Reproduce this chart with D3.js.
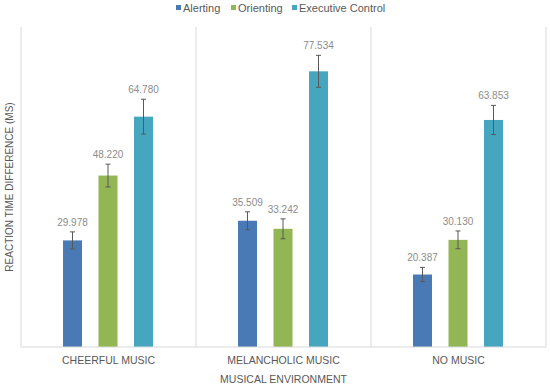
<!DOCTYPE html>
<html>
<head>
<meta charset="utf-8">
<script src="https://cdn.jsdelivr.net/npm/d3@7"></script>
<style>
  body { margin: 0; background: #fff; }
  text { font-family: "Liberation Sans", Arial, sans-serif; }
</style>
</head>
<body>
<svg id="chart" width="550" height="388"></svg>
<script>
// chart values
var categories = ['CHEERFUL MUSIC', 'MELANCHOLIC MUSIC', 'NO MUSIC'];
var seriesNames = ['Alerting', 'Orienting', 'Executive Control'];
var alerting = [29.978, 35.509, 20.387];
var orienting = [48.220, 33.242, 30.130];
var executive = [64.780, 77.534, 63.853];
// error bar half-widths
var alertingErr = [2.4, 2.5, 2.0];
var orientingErr = [3.2, 2.8, 2.5];
var executiveErr = [4.9, 4.5, 4.1];
var colors = ['#4a7ab5', '#93b655', '#46a6c0'];

var svg = d3.select('#chart');

var padding = {t: 27, r: 4, b: 41, l: 21};
var svgWidth = +svg.attr('width');
var svgHeight = +svg.attr('height');

var values = [alerting, orienting, executive];
var errs = [alertingErr, orientingErr, executiveErr];

// build rows for drawing
var rows = [];
categories.forEach(function(c, i) {
    seriesNames.forEach(function(s, j) {
        rows.push({cat: c, series: s, value: values[j][i], err: errs[j][i], color: colors[j]});
    });
});

var x0 = d3.scaleBand().domain(categories).range([padding.l, svgWidth - padding.r]).padding(0);
var x1 = d3.scaleBand().domain(seriesNames).range([42, 132]).paddingInner(0.465);
var y = d3.scaleLinear().domain([0, 90]).range([svgHeight - padding.b, padding.t]);

var gridColor = '#d9d9d9';

// vertical gridlines between categories
var bounds = categories.map(function(c) { return x0(c); });
bounds.push(x0(categories[categories.length - 1]) + x0.bandwidth());
svg.append('g').selectAll('line')
    .data(bounds)
    .enter().append('line')
    .attr('x1', function(d) { return d; })
    .attr('x2', function(d) { return d; })
    .attr('y1', y(90))
    .attr('y2', y(0))
    .attr('stroke', gridColor)
    .attr('stroke-width', 1);

// bars
var bar = svg.append('g').selectAll('.bar')
    .data(rows)
    .enter().append('g')
    .attr('class', 'bar')
    .attr('transform', function(d) { return 'translate(' + (x0(d.cat) + x1(d.series)) + ',0)'; });

bar.append('rect')
    .attr('y', function(d) { return y(d.value); })
    .attr('width', x1.bandwidth())
    .attr('height', function(d) { return y(0) - y(d.value); })
    .attr('fill', function(d) { return d.color; });

// error bars
var cx = x1.bandwidth() / 2;
bar.append('line')
    .attr('x1', cx).attr('x2', cx)
    .attr('y1', function(d) { return y(d.value + d.err); })
    .attr('y2', function(d) { return y(d.value - d.err); })
    .attr('stroke', '#595959').attr('stroke-width', 1);
bar.append('line')
    .attr('x1', cx - 2.5).attr('x2', cx + 2.5)
    .attr('y1', function(d) { return y(d.value + d.err); })
    .attr('y2', function(d) { return y(d.value + d.err); })
    .attr('stroke', '#595959').attr('stroke-width', 1);
bar.append('line')
    .attr('x1', cx - 2.5).attr('x2', cx + 2.5)
    .attr('y1', function(d) { return y(d.value - d.err); })
    .attr('y2', function(d) { return y(d.value - d.err); })
    .attr('stroke', '#595959').attr('stroke-width', 1);

// value labels
bar.append('text')
    .attr('x', cx)
    .attr('y', function(d) { return y(d.value + d.err) - 6; })
    .attr('text-anchor', 'middle')
    .attr('font-size', 10)
    .attr('fill', '#8c8c8c')
    .text(function(d) { return d3.format('.3f')(d.value); });

// bottom axis line
svg.append('line')
    .attr('x1', padding.l).attr('x2', svgWidth - padding.r)
    .attr('y1', y(0)).attr('y2', y(0))
    .attr('stroke', gridColor);

// category labels
svg.append('g').selectAll('text')
    .data(categories)
    .enter().append('text')
    .attr('x', function(d) { return x0(d) + x0.bandwidth() / 2; })
    .attr('y', 364)
    .attr('text-anchor', 'middle')
    .attr('font-size', 10.5)
    .attr('fill', '#595959')
    .text(function(d) { return d; });

// axis titles
svg.append('text')
    .attr('x', (padding.l + svgWidth - padding.r) / 2)
    .attr('y', 383)
    .attr('text-anchor', 'middle')
    .attr('font-size', 10.5)
    .attr('fill', '#595959')
    .text('MUSICAL ENVIRONMENT');

svg.append('text')
    .attr('transform', 'translate(13,' + ((y(0) + y(90)) / 2) + ') rotate(-90)')
    .attr('text-anchor', 'middle')
    .attr('font-size', 10)
    .attr('fill', '#595959')
    .text('REACTION TIME DIFFERENCE (MS)');

// legend
var legendX = [176, 231, 292];
var legend = svg.append('g').selectAll('g')
    .data(seriesNames)
    .enter().append('g')
    .attr('transform', function(d, i) { return 'translate(' + legendX[i] + ',0)'; });
legend.append('rect')
    .attr('y', 5).attr('width', 5).attr('height', 5)
    .attr('fill', function(d, i) { return colors[i]; });
legend.append('text')
    .attr('x', 7).attr('y', 12)
    .attr('font-size', 11)
    .attr('fill', '#595959')
    .text(function(d) { return d; });
</script>
</body>
</html>
